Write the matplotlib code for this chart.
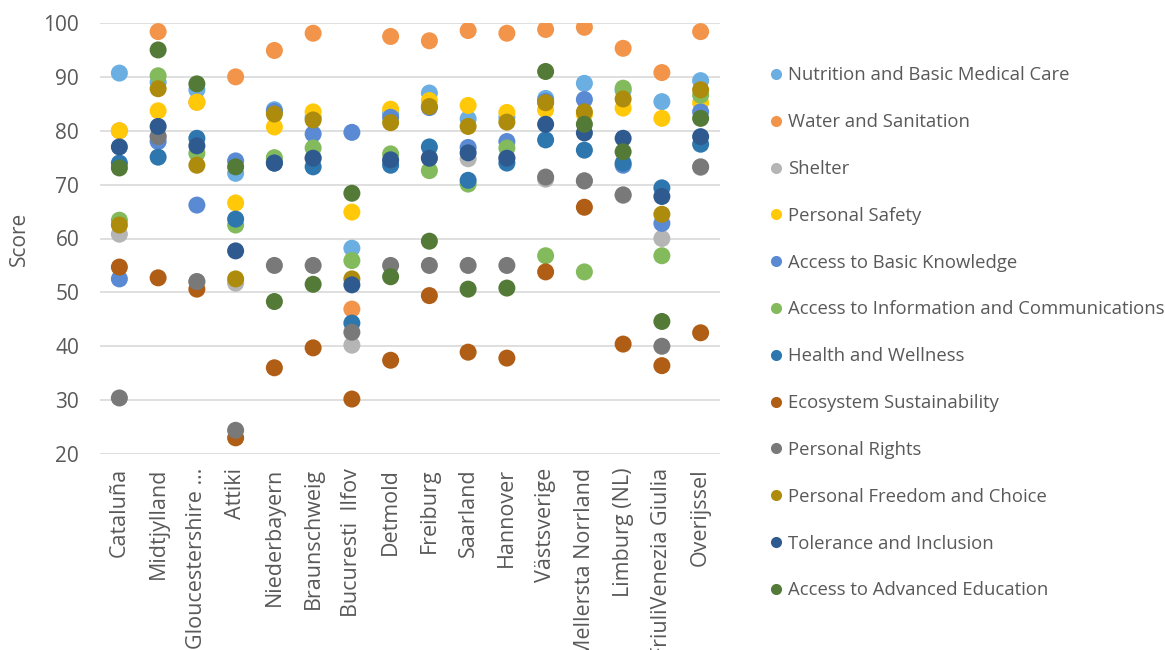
import matplotlib
matplotlib.use("Agg")
import matplotlib.pyplot as plt
from matplotlib.lines import Line2D

regions = ["Cataluña", "Midtjylland", "Gloucestershire …", "Attiki", "Niederbayern",
           "Braunschweig", "Bucuresti  Ilfov", "Detmold", "Freiburg", "Saarland",
           "Hannover", "Västsverige", "Mellersta Norrland", "Limburg (NL)",
           "FriuliVenezia Giulia", "Overijssel"]

series_names = ["Nutrition and Basic Medical Care", "Water and Sanitation", "Shelter",
                "Personal Safety", "Access to Basic Knowledge",
                "Access to Information and Communications", "Health and Wellness",
                "Ecosystem Sustainability", "Personal Rights",
                "Personal Freedom and Choice", "Tolerance and Inclusion",
                "Access to Advanced Education"]

nutrition = [90.7, 89.0, 87.6, 72.1, 83.9, 82.5, 58.2, 83.3, 87.0, 82.2, 82.5, 86.0, 88.8, 87.5, 85.4, 89.3]
water     = [80.0, 98.4, 85.3, 90.0, 94.9, 98.1, 46.9, 97.5, 96.7, 98.6, 98.1, 98.8, 99.2, 95.3, 90.8, 98.4]
shelter   = [60.8, 79.0, 52.0, 51.7, 74.8, 75.0, 40.2, 74.2, 75.0, 74.8, 75.0, 71.0, 70.7, 68.0, 60.0, 73.2]
safety    = [80.0, 83.7, 85.3, 66.6, 80.7, 83.5, 64.9, 84.0, 85.6, 84.7, 83.4, 83.9, 83.0, 84.2, 82.3, 85.2]
basic_kn  = [52.5, 78.0, 66.2, 74.4, 83.6, 79.4, 79.7, 82.5, 84.3, 76.9, 78.0, 85.5, 85.8, 73.6, 62.8, 83.5]
info_comm = [63.4, 90.2, 75.8, 62.5, 75.0, 76.8, 55.9, 75.7, 72.6, 70.1, 76.8, 56.8, 53.8, 87.9, 56.8, 86.6]
health    = [74.0, 75.1, 78.6, 63.6, 74.0, 73.3, 44.3, 73.6, 77.0, 70.8, 74.0, 78.3, 76.4, 74.0, 69.4, 77.5]
ecosystem = [54.7, 52.7, 50.6, 23.0, 36.0, 39.7, 30.2, 37.4, 49.4, 38.9, 37.8, 53.8, 65.8, 40.4, 36.4, 42.5]
rights    = [30.4, 78.9, 52.0, 24.4, 55.0, 55.0, 42.6, 55.0, 55.0, 55.0, 55.0, 71.4, 70.7, 68.1, 40.0, 73.3]
freedom   = [62.5, 87.8, 73.6, 52.5, 83.1, 82.0, 52.5, 81.5, 84.5, 80.8, 81.6, 85.2, 83.5, 85.9, 64.5, 87.6]
tolerance = [77.0, 80.8, 77.2, 57.7, 74.0, 74.9, 51.4, 74.6, 74.9, 75.9, 74.9, 81.2, 79.6, 78.6, 67.8, 78.9]
adv_edu   = [73.1, 95.0, 88.7, 73.3, 48.3, 51.5, 68.4, 52.9, 59.5, 50.6, 50.8, 91.0, 81.2, 76.1, 44.6, 82.3]

all_series = [nutrition, water, shelter, safety, basic_kn, info_comm, health,
              ecosystem, rights, freedom, tolerance, adv_edu]

colors = ["#6AAEE2", "#F2944A", "#B5B5B5", "#FFC90A", "#5A8AD3", "#83BA5C",
          "#2E77AE", "#B05D16", "#797979", "#AD8B0C", "#2F5A8F", "#537A37"]

yticks = [20, 30, 40, 50, 60, 70, 80, 90, 100]

plt.rcParams['font.family'] = ['Open Sans', 'DejaVu Sans']

fig = plt.figure(figsize=(11.65, 6.5), dpi=100)
ax = fig.add_axes([100/1165, (650-454)/650, 620/1165, (454-23)/650])

x = list(range(len(regions)))
for i, (vals, c, name) in enumerate(zip(all_series, colors, series_names)):
    ax.scatter(x, vals, s=150, color=c, edgecolors='none', zorder=3 + i, label=name)

ax.set_ylim(20, 100)
ax.set_xlim(-0.5, len(regions) - 0.5)
ax.set_yticks(yticks)
ax.set_yticklabels([str(v) for v in yticks], fontsize=15, color='#595959')
ax.set_xticks(x)
ax.set_xticklabels(regions, rotation=90, fontsize=15.5, color='#595959')
ax.tick_params(axis='both', length=0)
ax.tick_params(axis='y', pad=15)
ax.tick_params(axis='x', pad=10)
ax.grid(axis='y', color='#D9D9D9', linewidth=1.2, zorder=0)
ax.set_axisbelow(True)
for sp in ax.spines.values():
    sp.set_visible(False)
ax.set_ylabel("Score", fontsize=15, color='#595959', labelpad=10)

handles = [Line2D([0], [0], marker='o', linestyle='none', markersize=8,
                  markerfacecolor=c, markeredgecolor='none') for c in colors]
fig.legend(handles, series_names, loc='upper left', bbox_to_anchor=(758/1165, 1 - 59/650),
           frameon=False, fontsize=13.3, labelcolor='#595959', labelspacing=1.56,
           handletextpad=0.05, handlelength=1.2, borderaxespad=0)

fig.savefig("out.png", dpi=100)
